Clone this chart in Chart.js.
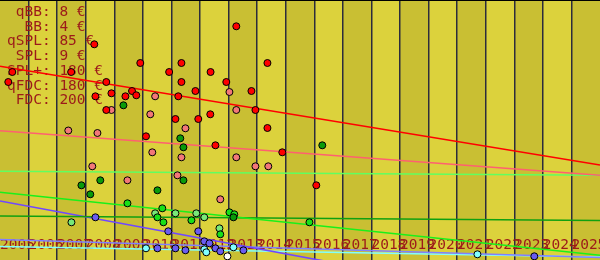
<!DOCTYPE html>
<html><head><meta charset="utf-8">
<script src="https://cdn.jsdelivr.net/npm/chart.js@4"></script>
<style>html,body{margin:0;padding:0;background:#fff}canvas{display:block}</style>
</head><body>
<canvas id="c" width="600" height="260"></canvas>
<script>
// ---- data ----
const yearTicks = [2005,2006,2007,2008,2009,2010,2011,2012,2013,2014,2015,2016,2017,2018,2019,2020,2021,2022,2023,2024,2025];
const trendYears = [2005, 2026];
const priceNotes = [" qBB: 8 €", "  BB: 4 €", "qSPL: 85 €", " SPL: 9 €", "SPL+: 180 €", "qFDC: 180 €", " FDC: 200 €"];

const redPts = [[2008.30,215.7],[2009.91,197],[2005.43,188],[2007.49,188],[2010.92,188],[2005.29,178],[2008.72,178],
  [2008.90,166.7],[2009.62,169],[2009.77,164.7],[2009.39,163.7],[2008.34,163.7],[2008.72,150],[2013.27,233.7],
  [2011.35,197],[2014.36,197],[2012.37,188],[2011.35,178],[2012.92,178],[2011.84,169],[2013.80,169],[2011.24,163.7],
  [2013.94,150],[2012.36,145.7],[2011.14,141],[2011.94,141],[2014.36,132],[2010.11,123.7],[2012.54,114.7],
  [2014.88,107.7],[2016.07,74.7]];
const pinkPts = [[2010.43,163.7],[2008.90,150],[2010.26,145.7],[2007.39,129.5],[2008.41,127],[2010.33,107.7],
  [2008.23,93.7],[2009.46,79.7],[2013.03,168],[2013.27,150],[2011.49,131.7],[2011.35,102.7],[2013.27,102.7],
  [2013.94,93.7],[2014.39,93.7],[2011.21,84.7],[2012.71,60.7]];
const darkGreenPts = [[2009.32,154.7],[2008.51,79.7],[2007.85,74.7],[2008.16,65.7],[2010.51,69.7],[2011.31,121.7],
  [2011.42,112.7],[2016.28,114.7],[2011.42,79.7],[2013.17,42.7]];
const greenPts = [[2009.46,56.7],[2010.68,51.7],[2010.51,42.7],[2010.72,37.7],[2011.70,39.7],[2013.03,47.7],
  [2013.20,45.7],[2012.71,25.7],[2015.83,37.7]];
const lightGreenPts = [[2007.50,37.7],[2010.43,46.7],[2011.14,46.7],[2011.87,46.7],[2012.15,42.7],[2012.68,31.7]];
const bluePts = [[2008.34,42.7],[2010.89,28.7],[2010.51,11.7],[2011.94,28.7],[2012.15,18.7],[2012.33,16.7],
  [2011.14,11.7],[2011.49,9.7],[2012.54,11.7],[2012.71,8.7],[2013.52,9.7],[2023.70,3.7]];
const cyanPts = [[2010.11,11.7],[2012.15,10.7],[2012.22,7.7],[2013.17,12.7],[2021.71,5.7]];
const whitePts = [[2012.96,3.7]];

const redTrend = [193.7, 95.0];
const pinkTrend = [129.3, 84.7];
const lightGreenTrend = [88.7, 84.7];
const greenTrend = [67.7, 4.7];
const darkGreenTrend = [44.0, 39.5];
const blueTrend = [59.0, -52.0];
const periwinkleTrend = [20.5, 2.5];
const cyanTrend = [13.5, 3.0];

// ---- build ----
const toXY = a => a.map(p => ({x: p[0], y: p[1]}));
const trendXY = t => trendYears.map((yr, i) => ({x: yr, y: t[i]}));

function pts(label, data, color) {
  return {type: 'scatter', label, data: toXY(data), backgroundColor: color, borderColor: '#000',
    borderWidth: 1, pointRadius: 3.5, pointHoverRadius: 3.5, order: 1};
}
function trend(label, data, color) {
  return {type: 'line', label, data: trendXY(data), borderColor: color, borderWidth: 1.6,
    pointRadius: 0, fill: false, tension: 0, order: 2};
}

const bandsPlugin = {
  id: 'bands',
  beforeDraw(chart) {
    const {ctx, chartArea: a, scales: {x}} = chart;
    ctx.save();
    ctx.fillStyle = '#dcd23c';
    ctx.fillRect(a.left, a.top, a.right - a.left, a.bottom - a.top);
    ctx.fillStyle = '#c9bf33';
    for (let i = 0; i < yearTicks.length; i += 2) {
      const x0 = x.getPixelForValue(yearTicks[i]);
      const x1 = x.getPixelForValue(yearTicks[i] + 1);
      ctx.fillRect(x0, a.top, x1 - x0, a.bottom - a.top);
    }
    ctx.restore();
  },
  beforeDatasetsDraw(chart) {
    const {ctx, chartArea: a} = chart;
    ctx.save();
    ctx.strokeStyle = '#000';
    ctx.lineWidth = 1;
    ctx.beginPath(); ctx.moveTo(a.left, a.top + 0.5); ctx.lineTo(a.right, a.top + 0.5); ctx.stroke();
    ctx.font = '14.5px "DejaVu Sans Mono", monospace';
    ctx.fillStyle = '#9c1a1a';
    ctx.textBaseline = 'middle';
    priceNotes.forEach((t, i) => ctx.fillText(t, a.left + 7, a.top + 12 + i * 14.75));
    ctx.restore();
  }
};

new Chart(document.getElementById('c'), {
  type: 'scatter',
  data: {
    datasets: [
      pts('red', redPts, '#ff0000'),
      pts('pink', pinkPts, '#f27878'),
      pts('dark green', darkGreenPts, '#0a9a0a'),
      pts('green', greenPts, '#18e018'),
      pts('light green', lightGreenPts, '#78e878'),
      pts('blue', bluePts, '#6a5cf0'),
      pts('cyan', cyanPts, '#80ffff'),
      pts('white', whitePts, '#ffffff'),
      trend('red trend', redTrend, '#ff0000'),
      trend('pink trend', pinkTrend, '#ff6070'),
      trend('light green trend', lightGreenTrend, '#60ff60'),
      trend('green trend', greenTrend, '#1af01a'),
      trend('dark green trend', darkGreenTrend, '#10a010'),
      trend('blue trend', blueTrend, '#7048ff'),
      trend('periwinkle trend', periwinkleTrend, '#8080ff'),
      trend('cyan trend', cyanTrend, '#80ffff')
    ]
  },
  options: {
    responsive: false,
    animation: false,
    layout: {padding: 0, autoPadding: false},
    plugins: {legend: {display: false}, tooltip: {enabled: false}, title: {display: false}},
    scales: {
      x: {
        type: 'linear', min: 2005, max: 2026,
        afterFit: s => { s.height = 0; s.paddingLeft = 0; s.paddingRight = 0; s.paddingTop = 0; s.paddingBottom = 0; },
        border: {display: false},
        grid: {
          drawTicks: false, lineWidth: 1.5,
          color: c => (c.tick && (c.tick.value === 2005 || c.tick.value === 2026)) ? 'rgba(0,0,0,0)' : '#2c2c3c'
        },
        ticks: {
          stepSize: 1, autoSkip: false, maxRotation: 0, minRotation: 0,
          align: 'start', mirror: true, padding: 6.5,
          color: '#9c1a1a',
          font: {family: '"DejaVu Sans Mono", monospace', size: 14.5},
          callback: v => yearTicks.includes(v) ? String(v) : ''
        }
      },
      y: {type: 'linear', min: 0, max: 260, display: false,
        afterFit: s => { s.paddingTop = 0; s.paddingBottom = 0; s.width = 0; }}
    }
  },
  plugins: [bandsPlugin]
});
</script>
</body></html>
